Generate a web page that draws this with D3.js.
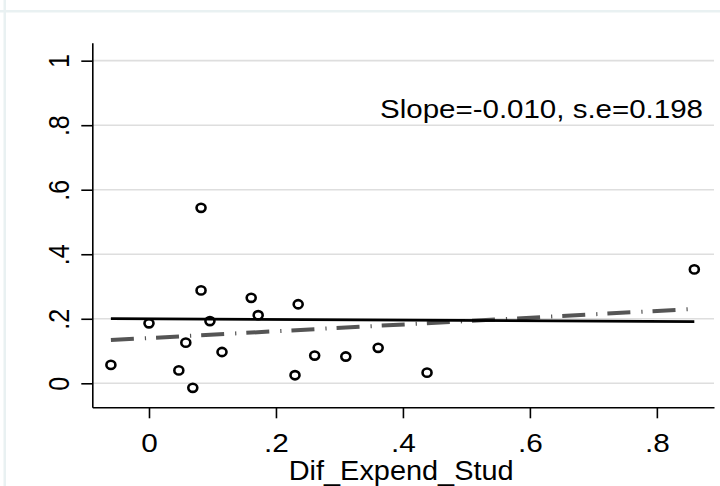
<!DOCTYPE html>
<head>
<style>
body { margin: 0; background: #fff; }
text {
  fill: #000;
  font-family: "Liberation Sans", Arial, sans-serif;
}
</style>
<meta charset="utf-8">
<title></title>
</head>
<body>
<script type="text/javascript" src="https://cdn.jsdelivr.net/npm/d3@7/dist/d3.min.js"></script>
<script>

// scatter values
var expendX = [-0.060, 0.000, 0.082, 0.082, 0.096, 0.058, 0.047, 0.069, 0.115,
               0.161, 0.172, 0.235, 0.261, 0.230, 0.310, 0.361, 0.438, 0.859];
var outcomeY = [0.057, 0.186, 0.544, 0.288, 0.193, 0.126, 0.040, -0.014, 0.097,
                0.265, 0.211, 0.245, 0.086, 0.025, 0.083, 0.110, 0.033, 0.353];

// two fitted lines, [y at xmin, y at xmax]
var solidFit = [0.2003, 0.1911];
var dashFit = [0.134, 0.2305];

var xTicks = [0, 0.2, 0.4, 0.6, 0.8];
var yTicks = [0, 0.2, 0.4, 0.6, 0.8, 1];
var xTitle = "Dif_Expend_Stud";
var note = "Slope=-0.010, s.e=0.198";

var width = 720,
    height = 486;

var svg = d3.select("body").append("svg")
    .attr("width", width)
    .attr("height", height);

// light outer frame bands
svg.append("rect").attr("x", 0).attr("y", 10).attr("width", width).attr("height", 2.5)
    .style("fill", "#e9f1f2");
svg.append("rect").attr("x", 3.5).attr("y", 0).attr("width", 2.5).attr("height", height)
    .style("fill", "#e9f1f2");

var x = d3.scaleLinear().domain([-0.0893, 0.89]).range([92.3, 714]);
var y = d3.scaleLinear().domain([-0.0744, 1.0557]).range([407.3, 42.7]);

var fmt = function(v) { return v === 0 ? "0" : v === 1 ? "1" : d3.format(".1f")(v).replace(/^0/, ""); };

// grid
svg.append("g")
    .selectAll("line")
    .data(yTicks)
    .enter().append("line")
    .attr("x1", x.range()[0])
    .attr("x2", x.range()[1])
    .attr("y1", function(d) { return y(d); })
    .attr("y2", function(d) { return y(d); })
    .style("stroke", "#dedede")
    .style("stroke-width", 1.6);

// axes
var xAxis = svg.append("g")
    .attr("transform", "translate(0," + y.range()[0] + ")")
    .call(d3.axisBottom(x).tickValues(xTicks).tickSize(11).tickSizeOuter(0).tickFormat(fmt));
var yAxis = svg.append("g")
    .attr("transform", "translate(" + x.range()[0] + ",0)")
    .call(d3.axisLeft(y).tickValues(yTicks).tickSize(11).tickSizeOuter(0).tickFormat(fmt));

svg.selectAll(".domain, .tick line")
    .style("stroke", "#000")
    .style("stroke-width", 1.6);
svg.selectAll(".tick text").remove();

// tick labels, a bit wider than tall like the source
xAxis.selectAll(".tick")
    .append("text")
    .attr("transform", "translate(0,45) scale(1.19,1)")
    .attr("text-anchor", "middle")
    .style("font-size", "25px")
    .text(function(d) { return fmt(d); });

yAxis.selectAll(".tick")
    .append("text")
    .attr("transform", "translate(-23,0) scale(1.19,1) rotate(-90)")
    .attr("text-anchor", "middle")
    .style("font-size", "25px")
    .text(function(d) { return fmt(d); });

// axis title
svg.append("text")
    .attr("transform", "translate(" + ((x.range()[0] + x.range()[1]) / 2 - 2) + ",480) scale(1.07,1)")
    .attr("text-anchor", "middle")
    .style("font-size", "27px")
    .text(xTitle);

// slope note
svg.append("text")
    .attr("transform", "translate(703,118) scale(1.18,1)")
    .attr("text-anchor", "end")
    .style("font-size", "25px")
    .text(note);

var xMin = d3.min(expendX), xMax = d3.max(expendX);

svg.append("line")
    .attr("x1", x(xMin)).attr("y1", y(dashFit[0]))
    .attr("x2", x(xMax)).attr("y2", y(dashFit[1]))
    .style("stroke", "#555")
    .style("stroke-width", 4)
    .style("stroke-dasharray", "23,11,1.2,10");

svg.append("line")
    .attr("x1", x(xMin)).attr("y1", y(solidFit[0]))
    .attr("x2", x(xMax)).attr("y2", y(solidFit[1]))
    .style("stroke", "#000")
    .style("stroke-width", 2.8);

// points
svg.append("g")
    .selectAll("ellipse")
    .data(expendX)
    .enter().append("ellipse")
    .attr("cx", function(d) { return x(d); })
    .attr("cy", function(d, i) { return y(outcomeY[i]); })
    .attr("rx", 4.5)
    .attr("ry", 4.1)
    .style("fill", "none")
    .style("stroke", "#000")
    .style("stroke-width", 2.6);

</script>
</body>
</html>
